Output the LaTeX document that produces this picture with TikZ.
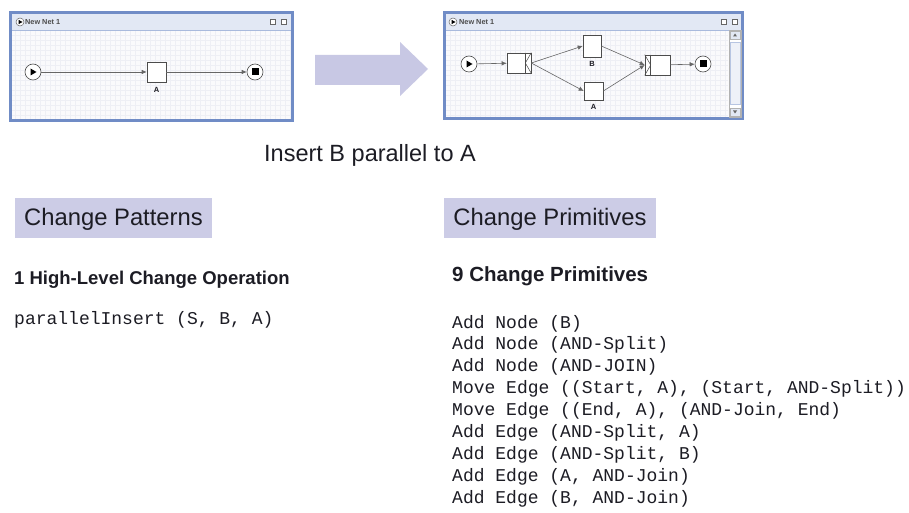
\documentclass[tikz,border=0pt]{standalone}
\usepackage{fontspec}
\setmainfont{Liberation Sans}
\setmonofont{Liberation Mono}
\usetikzlibrary{positioning,arrows.meta}

\definecolor{headfill}{RGB}{204,204,230}
\definecolor{arrowfill}{RGB}{200,200,228}
\definecolor{winborder}{RGB}{112,140,198}
\definecolor{titlefill}{RGB}{226,232,244}
\definecolor{canvasfill}{RGB}{250,250,252}
\definecolor{gridline}{RGB}{238,239,245}
\definecolor{inktext}{RGB}{28,28,36}

\begin{document}
\begin{tikzpicture}[
      x=1pt, y=-1pt,
      every node/.style = {inner sep=0pt, text=inktext},
      window/.style     = {draw=winborder, line width=2.2pt, fill=canvasfill},
      wingrid/.style    = {draw=gridline, line width=0.4pt, step=5pt},
      titlebar/.style   = {fill=titlefill},
      wintitle/.style   = {anchor=west, font=\fontsize{7.3}{8}\selectfont\bfseries, text=black!70},
      winicon/.style    = {draw=black!60, line width=0.5pt, fill=white, minimum size=5},
      task/.style       = {draw=black!70, fill=white, line width=0.6pt},
      event/.style      = {circle, draw=black!70, fill=white, line width=0.6pt, minimum size=16},
      startevent/.style = {event, path picture={\fill[black] (path picture bounding box.center)
                             ++(-2.5,-3.5) -- ++(6,3.5) -- ++(-6,3.5) -- cycle;}},
      endevent/.style   = {event, path picture={\fill[black] ([shift={(-3.5,-3.5)}]path picture bounding box.center)
                             rectangle ++(7,7);}},
      tasklabel/.style  = {font=\fontsize{7.5}{8}\selectfont\bfseries},
      flow/.style       = {draw=black!60, line width=0.6pt, -{Latex[length=5pt,width=4.5pt]}},
      header/.style     = {fill=headfill, font=\fontsize{23.8}{26}\selectfont, text height=18pt, text depth=4pt},
      heading/.style    = {anchor=base west, font=\bfseries},
      code/.style       = {anchor=base west, font=\ttfamily\fontsize{18}{18}\selectfont}
    ]
    \path[use as bounding box, fill=white] (0,0) rectangle (909,513);

    % before: start -> A -> end
    \node (leftwin) [window, minimum width=281, minimum height=107] at (151.5,66.5) {};
    \draw[wingrid] (12,119) grid (291,30);
    \fill[titlebar] (12,14) rectangle (291,30);
    \draw[winborder!60, line width=0.5pt] (12,30) -- (291,30);
    \draw[winborder, line width=2.2pt] (leftwin.north west) rectangle (leftwin.south east);
    \node (lefticon)  [winicon, circle, minimum size=8] at (20,22) {};
    \fill[black] (18.5,19.8) -- (22.5,22) -- (18.5,24.2) -- cycle;
    \node (lefttitle) [wintitle] at (25,22) {New Net 1};
    \node (leftmax)   [winicon] at (273,22) {};
    \node (leftclose) [winicon] at (284,22) {};

    \node (start1) [startevent] at (33,72) {};
    \node (taskA1) [task, minimum width=19, minimum height=20] at (156.5,72) {};
    \node (end1)   [endevent] at (255,72) {};
    \node (labA1)  [tasklabel, below=5pt of taskA1] {A};

    \draw[flow] (start1) to (taskA1);
    \draw[flow] (taskA1) to (end1);

    % transformation arrow
    \fill[arrowfill] (315,55) -- (400,55) -- (400,42) -- (428,69) -- (400,96) -- (400,85) -- (315,85) -- cycle;

    % after: start -> AND-split -> (B | A) -> AND-join -> end
    \node (rightwin) [window, minimum width=297, minimum height=105] at (593.5,65.5) {};
    \draw[wingrid] (446,117) grid (728,30);
    \fill[titlebar] (446,14) rectangle (741,30);
    \draw[winborder!60, line width=0.5pt] (446,30) -- (741,30);
    \node (righticon)  [winicon, circle, minimum size=8] at (453,22) {};
    \fill[black] (451.5,19.8) -- (455.5,22) -- (451.5,24.2) -- cycle;
    \node (righttitle) [wintitle] at (459,22) {New Net 1};
    \node (rightmax)   [winicon] at (724,22) {};
    \node (rightclose) [winicon] at (735,22) {};

    \node (scrollbar) [draw=black!30, fill=white, line width=0.5pt, minimum width=12, minimum height=87] at (735,73.5) {};
    \node (scrollup)   [draw=black!30, fill=titlefill, line width=0.4pt, minimum width=10, minimum height=8] at (735,35) {};
    \node (scrolldown) [draw=black!30, fill=titlefill, line width=0.4pt, minimum width=10, minimum height=8] at (735,112) {};
    \node (scrollthumb) [draw=winborder!50, fill=titlefill!60, line width=0.4pt, minimum width=10, minimum height=62] at (735,73.5) {};
    \fill[black!60] (733,36.5) -- (735,33.5) -- (737,36.5) -- cycle;
    \fill[black!60] (733,110.5) -- (735,113.5) -- (737,110.5) -- cycle;
    \draw[winborder, line width=2.2pt] (rightwin.north west) rectangle (rightwin.south east);

    \node (start2) [startevent] at (469,64) {};
    \node (split)  [task, minimum width=24, minimum height=20] at (519,63) {};
    \node (taskB)  [task, minimum width=18, minimum height=22] at (592,46) {};
    \node (taskA2) [task, minimum width=19, minimum height=18] at (593.5,91) {};
    \node (join)   [task, minimum width=25, minimum height=20] at (657.5,65) {};
    \node (end2)   [endevent] at (703,64) {};
    \node (labB)   [tasklabel, below=4pt of taskB]  {B};
    \node (labA2)  [tasklabel, below=4pt of taskA2] {A};

    % AND decorators
    \draw[black!70, line width=0.5pt] ([xshift=-6]split.north east) -- ([xshift=-6]split.south east);
    \draw[black!70, line width=0.5pt] (split.north east) -- ([xshift=-6]split.east) -- (split.south east);
    \draw[black!70, line width=0.5pt] ([xshift=6]join.north west) -- ([xshift=6]join.south west);
    \draw[black!70, line width=0.5pt] (join.north west) -- ([xshift=6]join.west) -- (join.south west);

    \draw[flow] (start2)     to (split);
    \draw[flow] (split.east) to (taskB.west);
    \draw[flow] (split.east) to (taskA2.west);
    \draw[flow] (taskB.east) to (join.west);
    \draw[flow] (taskA2.east) to (join.west);
    \draw[flow] (join)       to (end2);

    \node (caption) [anchor=base west, font=\fontsize{23.5}{26}\selectfont] at (264,161) {Insert B parallel to A};

    % left column
    \node (patterns) [header, minimum width=197, minimum height=40] at (113.5,218) {Change Patterns};
    \node (hlop)     [heading, font=\fontsize{18.5}{20}\selectfont\bfseries] at (14,284) {1 High-Level Change Operation};
    \node (pinsert)  [code] at (14,324) {parallelInsert (S, B, A)};

    % right column
    \node (primitives) [header, minimum width=212, minimum height=40] at (550,218) {Change Primitives};
    \node (nprim)      [heading, font=\fontsize{20.5}{22}\selectfont\bfseries] at (452,281) {9 Change Primitives};
    \node (prim1) [code] at (452,328.0) {Add Node (B)};
    \node (prim2) [code] at (452,349.9) {Add Node (AND-Split)};
    \node (prim3) [code] at (452,371.8) {Add Node (AND-JOIN)};
    \node (prim4) [code] at (452,393.7) {Move Edge ((Start, A), (Start, AND-Split))};
    \node (prim5) [code] at (452,415.6) {Move Edge ((End, A), (AND-Join, End)};
    \node (prim6) [code] at (452,437.5) {Add Edge (AND-Split, A)};
    \node (prim7) [code] at (452,459.4) {Add Edge (AND-Split, B)};
    \node (prim8) [code] at (452,481.3) {Add Edge (A, AND-Join)};
    \node (prim9) [code] at (452,503.2) {Add Edge (B, AND-Join)};
  \end{tikzpicture}
\end{document}
